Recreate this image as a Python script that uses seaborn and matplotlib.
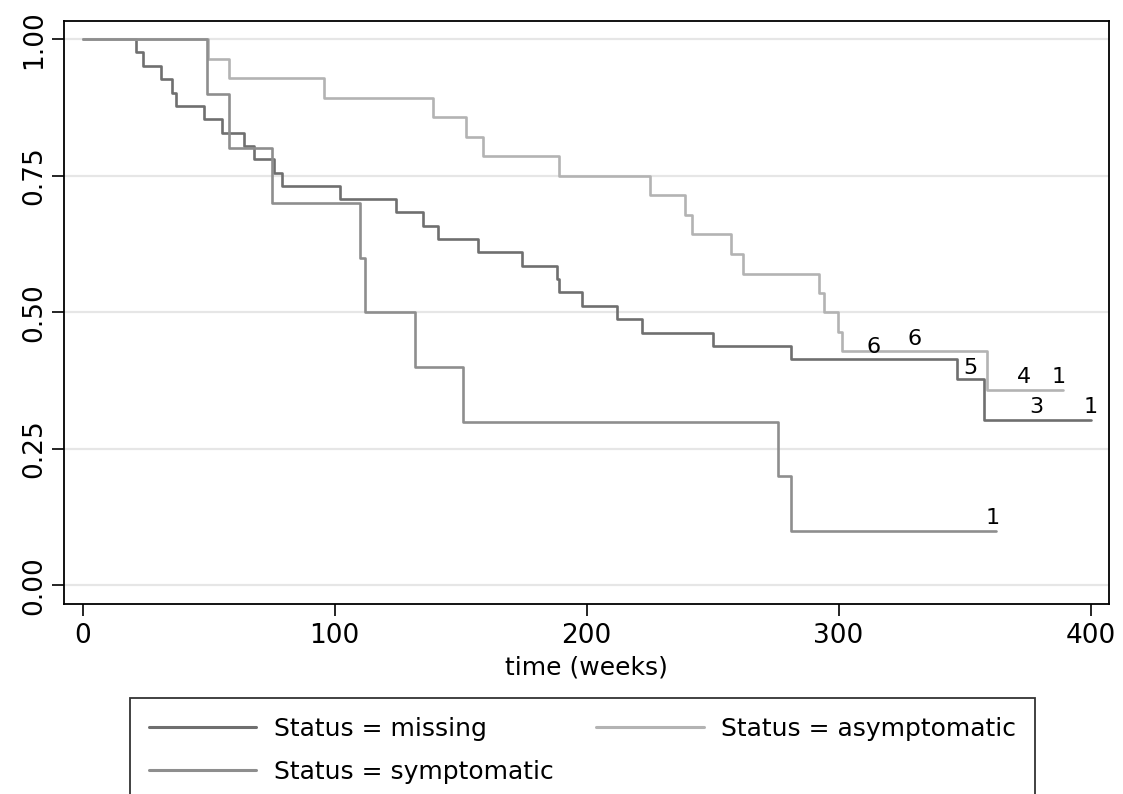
import matplotlib
matplotlib.use("Agg")
import matplotlib.pyplot as plt
import pandas as pd
import seaborn as sns

# Kaplan-Meier survival estimates (time in weeks)
missing_time = [0, 21.0, 24.0, 31.1, 35.3, 37.1, 48.1, 55.2, 64.1, 68.1, 75.9, 79.1,
                102.2, 124.3, 135.2, 141.1, 157.0, 174.2, 188.1, 189.1, 198.0, 212.0,
                222.1, 250.0, 281.0, 347.1, 357.8, 400.0]
missing_surv = [1.0, 0.976, 0.951, 0.927, 0.902, 0.878, 0.854, 0.829, 0.805, 0.780, 0.756,
                0.732, 0.707, 0.683, 0.659, 0.634, 0.610, 0.585, 0.561, 0.537, 0.512, 0.488,
                0.463, 0.439, 0.415, 0.378, 0.302, 0.302]

asymp_time = [0, 49.8, 58.2, 95.9, 139.1, 152.1, 159.0, 189.1, 225.1, 239.1, 241.8,
              257.1, 261.9, 292.2, 294.3, 299.8, 301.2, 359.0, 388.9]
asymp_surv = [1.0, 0.964, 0.929, 0.893, 0.857, 0.821, 0.786, 0.750, 0.714, 0.679, 0.643,
              0.607, 0.571, 0.536, 0.500, 0.464, 0.429, 0.357, 0.357]

sympt_time = [0, 49.2, 58.2, 75.0, 110.2, 112.2, 132.0, 151.0, 276.0, 281.0, 362.4]
sympt_surv = [1.0, 0.9, 0.8, 0.7, 0.6, 0.5, 0.4, 0.3, 0.2, 0.1, 0.1]

# number censored, shown above the curves
missing_cens_time = [352.4, 378.6, 400.0]
missing_cens_y = [0.399, 0.326, 0.326]
missing_cens_n = ["5", "3", "1"]
asymp_cens_time = [313.7, 330.0, 373.5, 387.5]
asymp_cens_y = [0.437, 0.451, 0.382, 0.382]
asymp_cens_n = ["6", "6", "4", "1"]
sympt_cens_time = [361.3]
sympt_cens_y = [0.123]
sympt_cens_n = ["1"]

groups = ["Status = missing", "Status = asymptomatic", "Status = symptomatic"]
colors = {"Status = missing": "#6f6f6f",
          "Status = asymptomatic": "#b3b3b3",
          "Status = symptomatic": "#8e8e8e"}

df = pd.concat([
    pd.DataFrame({"time": missing_time, "surv": missing_surv, "Status": groups[0]}),
    pd.DataFrame({"time": asymp_time, "surv": asymp_surv, "Status": groups[1]}),
    pd.DataFrame({"time": sympt_time, "surv": sympt_surv, "Status": groups[2]}),
], ignore_index=True)

sns.set_style("white")
plt.rcParams["font.family"] = ["DejaVu Sans"]
plt.rcParams.update({"text.color": "black", "axes.labelcolor": "black",
                     "xtick.color": "black", "ytick.color": "black"})

fig = plt.figure(figsize=(11.23, 7.94), dpi=100)
ax = fig.add_axes([0.0573, 0.2393, 0.9302, 0.7343])

sns.lineplot(data=df, x="time", y="surv", hue="Status", hue_order=groups,
             palette=colors, drawstyle="steps-post", estimator=None, sort=False,
             linewidth=1.9, ax=ax)

for t, y, n in [(missing_cens_time, missing_cens_y, missing_cens_n),
                (asymp_cens_time, asymp_cens_y, asymp_cens_n),
                (sympt_cens_time, sympt_cens_y, sympt_cens_n)]:
    for xi, yi, s in zip(t, y, n):
        ax.text(xi, yi, s, ha="center", va="center", fontsize=16, color="black")

ax.set_xlim(-7.3, 407.3)
ax.set_ylim(-0.034, 1.0335)
ax.set_xticks([0, 100, 200, 300, 400])
ax.set_yticks([0, 0.25, 0.5, 0.75, 1.0])
ax.set_yticklabels(["0.00", "0.25", "0.50", "0.75", "1.00"], rotation=90, va="center")
ax.tick_params(axis="both", direction="out", length=8.4, width=1.2, color="black",
               labelsize=19, bottom=True, left=True)
ax.tick_params(axis="x", pad=5)
ax.tick_params(axis="y", pad=4)
ax.yaxis.grid(True, color="#e6e6e6", linewidth=1.6)
ax.xaxis.grid(False)
ax.set_axisbelow(True)
for sp in ax.spines.values():
    sp.set_color("black")
    sp.set_linewidth(1.3)

ax.set_xlabel("time (weeks)", fontsize=18, labelpad=5)
ax.set_ylabel("")

handles, labels = ax.get_legend_handles_labels()
ax.get_legend().remove()
order = [labels.index(groups[0]), labels.index(groups[2]), labels.index(groups[1])]
leg = fig.legend([handles[i] for i in order], [labels[i] for i in order],
                 loc="upper left", bbox_to_anchor=(130 / 1123, 1 - 698 / 794),
                 ncol=2, fontsize=18, frameon=True, fancybox=False,
                 edgecolor="black", handlelength=4.3, handletextpad=0.7,
                 columnspacing=1.7, labelspacing=0.75, borderpad=0.75,
                 borderaxespad=0)
leg.get_frame().set_linewidth(1.3)
for line in leg.get_lines():
    line.set_linewidth(2.2)

fig.savefig("out.png", dpi=100)
